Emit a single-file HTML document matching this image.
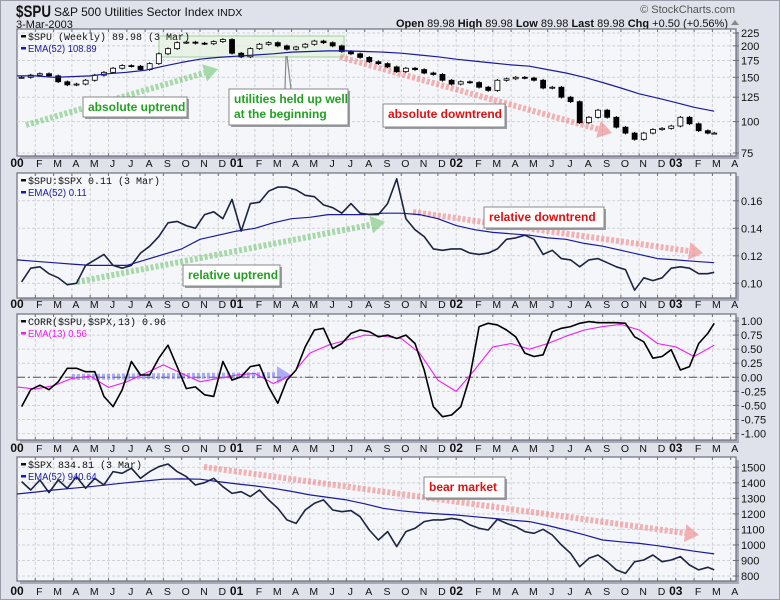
<!DOCTYPE html>
<html><head><meta charset="utf-8">
<style>
html,body{margin:0;padding:0;background:#dfe2ea;}
svg{display:block;font-family:"Liberation Sans",sans-serif;}
</style></head>
<body>
<svg id="chart" width="780" height="600" viewBox="0 0 780 600" xmlns="http://www.w3.org/2000/svg">
<rect x="0.5" y="0.5" width="779" height="599" fill="#dfe2ea" stroke="#9a9ca8"/>
<text x="16" y="17" font-size="17" font-weight="bold" fill="#111" textLength="35" lengthAdjust="spacingAndGlyphs">$SPU</text>
<text x="54" y="16" font-size="12" fill="#111">S&amp;P 500 Utilities Sector Index <tspan font-size="10.5">INDX</tspan></text>
<text x="16" y="28" font-size="11" fill="#111">3-Mar-2003</text>
<text x="735" y="13" font-size="11" fill="#555" text-anchor="end">© StockCharts.com</text>
<text x="728" y="27" font-size="11" fill="#111" text-anchor="end"><tspan font-weight="bold">Open</tspan> 89.98  <tspan font-weight="bold">High</tspan> 89.98  <tspan font-weight="bold">Low</tspan> 89.98  <tspan font-weight="bold">Last</tspan> 89.98  <tspan font-weight="bold">Chg</tspan> +0.50 (+0.56%)</text>
<path d="M731,25 L735,20 L739,25 Z" fill="#888"/>
<g id="layer"></g>
</svg>
<script>
// ---- data (t in months from Jan 2000) ----
const spuCloses = [150,153,155,152,144,140,141,146,153,157,163,167,166,161,170,186,195,206,207,205,204,208,212,187,181,195,203,206,200,194,198,203,209,206,200,190,186,180,173,170,165,158,163,161,156,154,146,141,144,143,137,133,146,148,150,149,146,136,137,125,120,99,104,111,104,95,90,85,90,93,94,96,104,98,92,90,90];
const spuEma = [152,152,150,151,152,155,157,160,166,172,177,180,182,184,186,189,190,191,191,190,189,187,184,181,177,174,171,168,166,161,156,150,143,136,129,124,119,114,110];
const ratioValues = [.101,.111,.112,.107,.104,.099,.100,.113,.117,.121,.113,.111,.113,.122,.127,.134,.144,.145,.142,.140,.150,.152,.147,.161,.138,.158,.159,.167,.170,.170,.168,.164,.163,.157,.155,.151,.158,.151,.150,.150,.158,.176,.147,.139,.134,.125,.124,.125,.125,.122,.121,.122,.125,.132,.133,.135,.132,.121,.124,.118,.117,.112,.117,.118,.115,.112,.110,.095,.104,.102,.104,.111,.112,.111,.107,.107,.108];
const ratioEma = [.117,.116,.115,.114,.113,.113,.113,.117,.121,.125,.132,.135,.138,.140,.144,.147,.148,.150,.150,.150,.151,.151,.150,.147,.142,.139,.137,.136,.135,.133,.132,.129,.127,.124,.121,.118,.117,.116,.115];
const corrValues = [-.52,-.22,-.14,-.22,-.08,.16,.16,.10,.10,-.34,-.52,-.22,.28,.04,.04,.34,.57,.19,-.20,-.17,-.31,-.34,.28,-.05,.01,.19,.22,-.17,-.46,-.05,.13,.54,.84,.87,.51,.60,.78,.84,.81,.72,.75,.69,.75,.60,.13,-.52,-.70,-.67,-.52,.01,.90,.96,.93,.84,.72,.43,.37,.40,.81,.87,.90,.96,.99,.97,.97,.97,.96,.72,.63,.34,.37,.49,.13,.19,.60,.78,.96];
const corrEma = [-.17,-.21,-.15,-.02,.02,-.18,-.08,.07,.22,.07,-.08,-.02,.04,.07,-.11,.04,.43,.57,.66,.75,.73,.69,.43,-.05,-.25,.13,.54,.60,.50,.60,.73,.84,.90,.94,.84,.60,.54,.37,.57];
const spxValues = [1408,1354,1418,1337,1418,1365,1440,1365,1429,1386,1472,1461,1494,1429,1472,1504,1521,1472,1440,1386,1401,1429,1375,1332,1343,1311,1354,1290,1236,1161,1139,1225,1268,1290,1225,1214,1221,1182,1096,1032,1086,989,1086,1107,1150,1161,1161,1171,1161,1129,1107,1096,1165,1139,1118,1086,1075,1101,1064,1000,946,860,914,935,892,839,817,892,903,935,892,903,925,871,839,856,839];
const spxEma = [1328,1340,1354,1365,1375,1388,1401,1412,1423,1425,1423,1408,1393,1380,1365,1345,1322,1306,1290,1265,1236,1220,1208,1200,1193,1182,1171,1160,1150,1125,1096,1065,1032,1020,1010,995,978,960,942];
const monthLetters = ["J","F","M","A","M","J","J","A","S","O","N","D"];
const yearLabels = ["00","01","02","03"];
const spuTicks = [75,100,125,150,175,200,225];
const ratioTicks = [0.10,0.12,0.14,0.16];
const corrTicks = [-1,-0.75,-0.5,-0.25,0,0.25,0.5,0.75,1];
const spxTicks = [800,900,1000,1100,1200,1300,1400,1500];

const NS="http://www.w3.org/2000/svg";
const layer=document.getElementById('layer');
const X0=17, XR=736, MW=18.3;
const xOf=t=>X0+t*MW;
const halfT=i=>0.25+i*0.5;
function mk(tag,attrs,parent){const e=document.createElementNS(NS,tag);for(const k in attrs)e.setAttribute(k,attrs[k]);(parent||layer).appendChild(e);return e;}
function tOfHalf(arr,i){return i===arr.length-1?38.1:halfT(i);}

const panels=[
 {top:29,bot:156,name:'spu'},
 {top:173,bot:298,name:'ratio'},
 {top:314,bot:440,name:'corr'},
 {top:457,bot:581,name:'spx'}];
const ySpu=v=>153-Math.log(v/75)*109.2;
const yRatio=v=>283.3-(v-0.10)/0.02*27.5;
const yCorr=v=>377.3-v*56.3;
const ySpx=v=>576-(v-800)*0.1553;

function panelFrame(p,ticks,yf,fmt){
  const g=mk('g',{});
  
  
  mk('rect',{x:X0+3,y:p.top+3,width:XR-X0,height:p.bot-p.top,fill:'#a8abb6'},g);
  mk('rect',{x:X0,y:p.top,width:XR-X0,height:p.bot-p.top,fill:'#f5f6fa',stroke:'#6c6e7c','stroke-width':1.2},g);
  for(let m=1;m<40;m++){const x=xOf(m);if(x>=XR)break;
    mk('line',{x1:x,y1:p.top,x2:x,y2:p.bot,stroke:'#cfd1d8','stroke-dasharray':'3,2','stroke-width':1},g);
    mk('line',{x1:x,y1:p.top,x2:x,y2:p.top+3,stroke:'#6c6e7c'},g);
    mk('line',{x1:x,y1:p.bot-3,x2:x,y2:p.bot,stroke:'#6c6e7c'},g);}
  ticks.forEach(v=>{const y=yf(v);
    mk('line',{x1:X0,y1:y,x2:XR,y2:y,stroke:'#cfd1d8','stroke-dasharray':'3,2'},g);
    mk('line',{x1:XR-3,y1:y,x2:XR+3,y2:y,stroke:'#6c6e7c'},g);
    const t=mk('text',{x:XR+5,y:y+4,'font-size':11,fill:'#111'},g);t.textContent=fmt(v);
    
    
  });
  return g;
}
function axisRow(y){
  const g=mk('g',{});
  
  
  for(let m=0;m<40;m++){const x=xOf(m);if(x>XR+2)break;
    const t=mk('text',{'font-size':m%12===0?12:10.5,fill:'#111'},g);
    if(m%12===0){t.setAttribute('x',x);t.setAttribute('font-weight','bold');t.setAttribute('text-anchor','middle');t.textContent=yearLabels[m/12];}
    else{t.setAttribute('x',x+4);t.setAttribute('text-anchor','middle');t.textContent=monthLetters[m%12];}
    t.setAttribute('y',y);
    
    
  }
}
function line(pts,color,w,name){const e=mk('polyline',{points:pts.map(p=>p[0].toFixed(1)+','+p[1].toFixed(1)).join(' '),fill:'none',stroke:color,'stroke-width':w,'stroke-linejoin':'round'});
  return e;}
function halfPts(arr,yf){return arr.map((v,i)=>[xOf(tOfHalf(arr,i)),yf(v)]);}
function monthPts(arr,yf){return arr.map((v,i)=>[xOf(i===38?38.1:i),yf(v)]);}
function legend(p,l1,c1,l2,c2){
  mk('rect',{x:X0+4,y:p.top+6,width:5,height:2.5,fill:c1});
  const a=mk('text',{x:X0+11,y:p.top+11,'font-size':10,'font-family':'Liberation Mono, monospace',fill:c1});a.textContent=l1;
  
  mk('rect',{x:X0+4,y:p.top+18,width:5,height:2.5,fill:c2});
  const b=mk('text',{x:X0+11,y:p.top+23,'font-size':10,fill:c2,textLength:l2.length*4.9,lengthAdjust:'spacingAndGlyphs'});b.textContent=l2;
  
}
function arrow(x1,y1,x2,y2,color,name){
  const g=mk('g',{opacity:0.55});
  
  const ang=Math.atan2(y2-y1,x2-x1),L=14;
  const bx=x2-L*Math.cos(ang),by=y2-L*Math.sin(ang);
  mk('line',{x1:x1,y1:y1,x2:bx,y2:by,stroke:color,'stroke-width':6,'stroke-dasharray':'3,2'},g);
  const px=-Math.sin(ang)*9,py=Math.cos(ang)*9;
  mk('path',{d:`M${x2},${y2} L${bx+px},${by+py} L${bx-px},${by-py} Z`,fill:color},g);
}
function box(x,y,w,h,lines,color,name){
  const g=mk('g',{});
  mk('rect',{x:x+2,y:y+2,width:w,height:h,fill:'#9a9ca4'},g);
  mk('rect',{x:x,y:y,width:w,height:h,fill:'#fff',stroke:'#888'},g);
  lines.forEach((s,i)=>{const t=mk('text',{x:x+5,y:y+14+i*15,'font-size':12,'font-weight':'bold',fill:color},g);t.textContent=s;});
}

// Panel 1
panelFrame(panels[0],spuTicks,ySpu,v=>v);
mk('rect',{x:159,y:36,width:185,height:21,fill:'#e6f2e2',stroke:'#a8d8a0','stroke-width':1.5,opacity:0.8});
arrow(26,125,218,69,'#66c266','uptrend-arrow');
arrow(340,57,612,133,'#f07878','downtrend-arrow');
const cg=mk('g',{});
spuCloses.forEach((c,i)=>{
  const o=i?spuCloses[i-1]:c;const x=xOf(tOfHalf(spuCloses,i));
  const hi=Math.max(o,c)*1.012,lo=Math.min(o,c)*0.988;
  mk('line',{x1:x,y1:ySpu(hi),x2:x,y2:ySpu(lo),stroke:'#000'},cg);
  const yt=ySpu(Math.max(o,c)),yb=ySpu(Math.min(o,c));
  mk('rect',{x:x-2.5,y:yt,width:5,height:Math.max(1,yb-yt),fill:c>=o?'#fff':'#000',stroke:'#000','stroke-width':0.8},cg);
});
line(monthPts(spuEma,ySpu),'#1a1aa0',1.2,'spu-ema-line');
legend(panels[0],'$SPU (Weekly) 89.98 (3 Mar)','#111','EMA(52) 108.89','#1a1aa0');
mk('line',{x1:285,y1:89,x2:286,y2:56,stroke:'#888','stroke-width':1.2});
mk('line',{x1:291,y1:89,x2:287,y2:56,stroke:'#888','stroke-width':1.2});
box(83,97,104,20,['absolute uptrend'],'#22a022','absolute-uptrend-label');
box(229,89,119,36,['utilities held up well','at the beginning'],'#22a022','held-up-label');
box(383,104,122,23,['absolute downtrend'],'#e01010','absolute-downtrend-label');
axisRow(167);

// Panel 2
panelFrame(panels[1],ratioTicks,yRatio,v=>v.toFixed(2));
arrow(77,282,385,222,'#66c266','relative-uptrend-arrow');
arrow(413,212,703,253,'#f07878','relative-downtrend-arrow');
line(monthPts(ratioEma,yRatio),'#1a1aa0',1.2,'ratio-ema-line');
line(halfPts(ratioValues,yRatio),'#1c2440',1.6,'ratio-line');
legend(panels[1],'$SPU:$SPX 0.11 (3 Mar)','#111','EMA(52) 0.11','#1a1aa0');
box(183,265,97,21,['relative uptrend'],'#22a022','relative-uptrend-label');
box(484,207,120,21,['relative downtrend'],'#e01010','relative-downtrend-label');
axisRow(308);

// Panel 3
panelFrame(panels[2],corrTicks,yCorr,v=>v.toFixed(2));
mk('line',{x1:X0,y1:yCorr(0),x2:XR,y2:yCorr(0),stroke:'#555','stroke-dasharray':'8,3,2,3'});
arrow(72,377,291,375,'#7070f0','sideways-arrow');
line(monthPts(corrEma,yCorr),'#f020f0',1.1,'corr-ema-line');
line(halfPts(corrValues,yCorr),'#000',1.6,'corr-line');
legend(panels[2],'CORR($SPU,$SPX,13) 0.96','#111','EMA(13) 0.56','#f020f0');
axisRow(452);

// Panel 4
panelFrame(panels[3],spxTicks,ySpx,v=>v);
arrow(204,467,699,535,'#f07878','bear-market-arrow');
line(monthPts(spxEma,ySpx),'#1a1aa0',1.2,'spx-ema-line');
line(halfPts(spxValues,ySpx),'#1c2440',1.6,'spx-line');
legend(panels[3],'$SPX 834.81 (3 Mar)','#111','EMA(52) 940.64','#1a1aa0');
box(424,477,81,21,['bear market'],'#e01010','bear-market-label');
axisRow(595);
</script>
</body></html>
